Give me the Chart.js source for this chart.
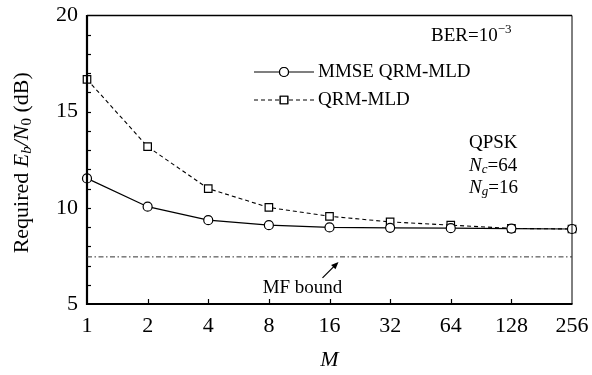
<!DOCTYPE html>
<html><head><meta charset="utf-8">
<script src="https://cdn.jsdelivr.net/npm/chart.js@4.4.0/dist/chart.umd.min.js"></script>
<style>html,body{margin:0;padding:0;background:#fff}#wrap{width:592px;height:375px;position:relative}</style>
</head><body><div id="wrap"><canvas id="c" width="592" height="375"></canvas></div>
<script>
const mLabels = ['1','2','4','8','16','32','64','128','256'];
const mmseQrmMld = [11.53, 10.06, 9.36, 9.10, 8.98, 8.96, 8.94, 8.92, 8.90];
const qrmMld = [16.68, 13.18, 11.00, 10.02, 9.56, 9.27, 9.10, 8.93, 8.90];
const mfBound = 7.45;
const seriesNames = ['MMSE QRM-MLD', 'QRM-MLD'];
const yMin = 5, yMax = 20, yStep = 5;

const FONT = "'Liberation Serif', 'Times New Roman', serif";
Chart.defaults.font.family = FONT;
Chart.defaults.color = '#000';

function drawRich(ctx, segs, x, y, align) {
  let w = 0;
  segs.forEach(s => { ctx.font = (s.italic ? 'italic ' : '') + s.size + 'px ' + FONT; s.w = ctx.measureText(s.t).width; w += s.w; });
  let cx = align === 'center' ? x - w / 2 : x;
  ctx.textAlign = 'left'; ctx.textBaseline = 'middle'; ctx.fillStyle = '#000';
  segs.forEach(s => { ctx.font = (s.italic ? 'italic ' : '') + s.size + 'px ' + FONT; ctx.fillText(s.t, cx, y + (s.dy || 0)); cx += s.w; });
}

const deco = {
  id: 'deco',
  afterDraw(chart) {
    const ctx = chart.ctx, a = chart.chartArea, xs = chart.scales.x, ys = chart.scales.y;
    ctx.save();
    ctx.strokeStyle = '#000';
    // frame
    ctx.lineWidth = 1.3;
    ctx.beginPath(); ctx.moveTo(a.left, a.top); ctx.lineTo(a.right, a.top); ctx.stroke();
    ctx.lineWidth = 1;
    ctx.beginPath(); ctx.moveTo(a.right, a.top); ctx.lineTo(a.right, a.bottom); ctx.stroke();
    ctx.lineWidth = 2.2;
    ctx.beginPath(); ctx.moveTo(a.left, a.top - 0.6); ctx.lineTo(a.left, a.bottom); ctx.lineTo(a.right + 0.5, a.bottom); ctx.stroke();
    // inward ticks
    ctx.lineWidth = 1.2;
    for (let v = yMin + 1; v < yMax; v++) {
      const py = Math.round(ys.getPixelForValue(v)) + 0.5;
      ctx.beginPath(); ctx.moveTo(a.left, py); ctx.lineTo(a.left + 4, py); ctx.stroke();
    }
    for (let i = 1; i < mLabels.length - 1; i++) {
      const px = Math.round(xs.getPixelForValue(i)) + 0.5;
      ctx.beginPath(); ctx.moveTo(px, a.bottom); ctx.lineTo(px, a.bottom - 5); ctx.stroke();
    }
    // MF bound line
    const my = ys.getPixelForValue(mfBound);
    ctx.lineWidth = 1; ctx.strokeStyle = '#333';
    ctx.setLineDash([5, 2.5, 1.5, 2.5]);
    ctx.beginPath(); ctx.moveTo(a.left, my); ctx.lineTo(a.right, my); ctx.stroke();
    ctx.setLineDash([]);
    // arrow
    const hx = xs.getPixelForValue(4) + 9, hy = my + 5;
    const tx = hx - 16, ty = hy + 16;
    ctx.strokeStyle = '#000'; ctx.fillStyle = '#000'; ctx.lineWidth = 1.3;
    ctx.beginPath(); ctx.moveTo(tx, ty); ctx.lineTo(hx - 4, hy + 4); ctx.stroke();
    const ang = Math.atan2(hy - ty, hx - tx);
    ctx.beginPath(); ctx.moveTo(hx, hy);
    ctx.lineTo(hx - 8 * Math.cos(ang - 0.4), hy - 8 * Math.sin(ang - 0.4));
    ctx.lineTo(hx - 8 * Math.cos(ang + 0.4), hy - 8 * Math.sin(ang + 0.4));
    ctx.closePath(); ctx.fill();
    drawRich(ctx, [{t: 'MF bound', size: 19}], tx - 20, ty + 10, 'center');
    // legend
    const legendY = [72, 100];
    const ds = chart.data.datasets;
    [0, 1].forEach(i => {
      const y = legendY[i];
      ctx.strokeStyle = '#000'; ctx.lineWidth = 1.2;
      ctx.setLineDash(ds[i].borderDash || []);
      ctx.beginPath(); ctx.moveTo(254, y); ctx.lineTo(314, y); ctx.stroke();
      ctx.setLineDash([]);
      Chart.helpers.drawPoint(ctx, {pointStyle: ds[i].pointStyle, radius: ds[i].pointRadius, borderWidth: 1.2}, 284, y);
      ctx.fillStyle = '#fff';
      ctx.fill();
      ctx.stroke();
      drawRich(ctx, [{t: seriesNames[i], size: 19}], 318, y, 'left');
    });
    // annotations
    drawRich(ctx, [{t: 'BER=10', size: 19}, {t: '\u22123', size: 13, dy: -6}], 431, 36, 'left');
    drawRich(ctx, [{t: 'QPSK', size: 19}], 469, 143, 'left');
    drawRich(ctx, [{t: 'N', size: 19, italic: true}, {t: 'c', size: 13, italic: true, dy: 4}, {t: '=64', size: 19}], 469, 166, 'left');
    drawRich(ctx, [{t: 'N', size: 19, italic: true}, {t: 'g', size: 13, italic: true, dy: 4}, {t: '=16', size: 19}], 469, 188, 'left');
    // axis titles
    drawRich(ctx, [{t: 'M', size: 22, italic: true}], (a.left + a.right) / 2, 360, 'center');
    ctx.translate(22, (a.top + a.bottom) / 2 + 3);
    ctx.rotate(-Math.PI / 2);
    drawRich(ctx, [{t: 'Required ', size: 22}, {t: 'E', size: 22, italic: true}, {t: 'b', size: 15, italic: true, dy: 5},
      {t: '/', size: 22, italic: true}, {t: 'N', size: 22, italic: true}, {t: '0', size: 15, dy: 5}, {t: ' (dB)', size: 22}], 0, 0, 'center');
    ctx.restore();
  }
};

new Chart(document.getElementById('c'), {
  type: 'line',
  data: {
    labels: mLabels,
    datasets: [
      { label: seriesNames[0], data: mmseQrmMld, borderColor: '#000', borderWidth: 1.2, pointStyle: 'circle', pointRadius: 4.5,
        pointBackgroundColor: '#fff', pointBorderColor: '#000', pointBorderWidth: 1.2, tension: 0, fill: false },
      { label: seriesNames[1], data: qrmMld, borderColor: '#000', borderWidth: 1.1, borderDash: [4, 3], pointStyle: 'rect', pointRadius: 5.3,
        pointBackgroundColor: '#fff', pointBorderColor: '#000', pointBorderWidth: 1.2, tension: 0, fill: false }
    ]
  },
  options: {
    responsive: false, animation: false, devicePixelRatio: 1,
    layout: { padding: { top: 15.5, right: 20, left: 0, bottom: 0 } },
    plugins: { legend: { display: false }, tooltip: { enabled: false } },
    scales: {
      x: {
        type: 'category', offset: false,
        grid: { display: false, drawTicks: false }, border: { display: false },
        ticks: { font: { size: 22 }, padding: 9, maxRotation: 0, autoSkip: false },
        afterFit: s => { s.height = 71; s.paddingLeft = 0; s.paddingRight = 0; }
      },
      y: {
        min: yMin, max: yMax,
        grid: { display: false, drawTicks: false }, border: { display: false },
        ticks: { stepSize: yStep, font: { size: 22 }, padding: 9 },
        afterFit: s => { s.width = 87; s.paddingTop = 0; s.paddingBottom = 0; }
      }
    }
  },
  plugins: [deco]
});
</script>
</body></html>
